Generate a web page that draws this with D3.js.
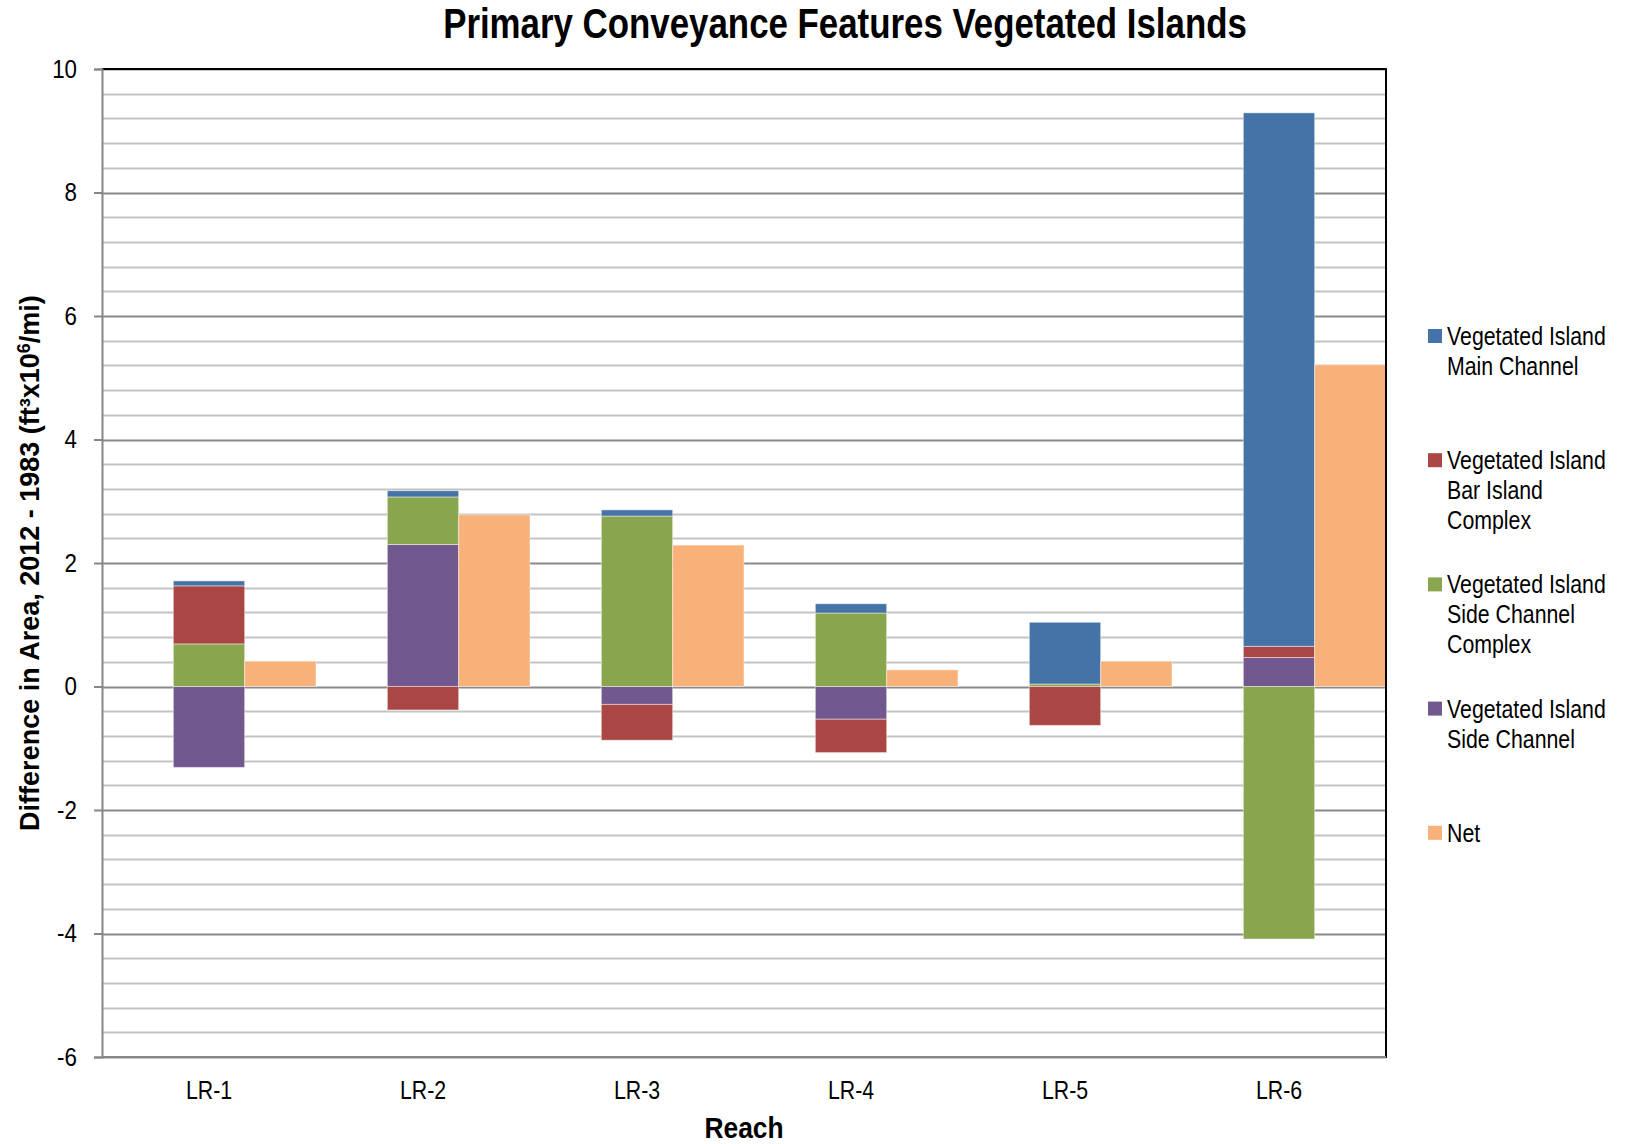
<!DOCTYPE html>
<html>
<head>
<meta charset="utf-8">
<script src="https://cdnjs.cloudflare.com/ajax/libs/d3/7.8.5/d3.min.js"></script>
<style>
    html, body { margin: 0; padding: 0; background: #ffffff; }
    text { font-family: "Liberation Sans Narrow", "Arial Narrow", "Liberation Sans", Arial, sans-serif; fill: #000; }
</style>
</head>
<body>
<div id="chart"></div>
<script>
// values, ft3 x 10^6 per mile
var categories = ["LR-1", "LR-2", "LR-3", "LR-4", "LR-5", "LR-6"];
var mainChannel = [0.08, 0.10, 0.10, 0.15, 1.00, 8.64];
var barIsland = [0.94, -0.38, -0.58, -0.54, -0.63, 0.18];
var sideChannelComplex = [0.69, 0.77, 2.76, 1.19, 0.04, -4.09];
var sideChannel = [-1.31, 2.30, -0.29, -0.53, 0.00, 0.47];
var net = [0.41, 2.78, 2.29, 0.27, 0.41, 5.21];
var yTicks = [-6, -4, -2, 0, 2, 4, 6, 8, 10];

var width = 1625, height = 1144;
var margin = {top: 69, right: 239, bottom: 87, left: 102};
var squeeze = 0.82; // no narrow font installed, so squeeze the regular one

var series = [
    {key: "sideChannel", values: sideChannel, color: "#71588F"},
    {key: "sideChannelComplex", values: sideChannelComplex, color: "#89A54E"},
    {key: "barIsland", values: barIsland, color: "#AA4643"},
    {key: "mainChannel", values: mainChannel, color: "#4572A7"}
];

var legendItems = [
    {lines: ["Vegetated Island", "Main Channel"], color: "#4572A7"},
    {lines: ["Vegetated Island", "Bar Island", "Complex"], color: "#AA4643"},
    {lines: ["Vegetated Island", "Side Channel", "Complex"], color: "#89A54E"},
    {lines: ["Vegetated Island", "Side Channel"], color: "#71588F"},
    {lines: ["Net"], color: "#F8B179"}
];

var rows = categories.map(function (c, i) {
    var r = {reach: c};
    series.forEach(function (s) { r[s.key] = s.values[i]; });
    return r;
});

function narrow(sel, k) {
    sel.attr("transform", "scale(" + k + ",1)")
        .attr("x", function () { return (+this.getAttribute("x") || 0) / k; });
}

var svg = d3.select("#chart").append("svg")
    .attr("width", width)
    .attr("height", height);

var x = d3.scaleBand()
    .domain(categories)
    .range([margin.left, width - margin.right])
    .padding(0);

var y = d3.scaleLinear()
    .domain([-6, 10])
    .range([height - margin.bottom, margin.top]);

var bw = x.bandwidth() / 3;

// gridlines, minor every 0.4 then major every 2
var minor = d3.range(-6, 10.001, 0.4).filter(function (v) {
    return Math.abs(v / 2 - Math.round(v / 2)) > 0.01;
});
svg.append("g").selectAll("line")
    .data(minor)
    .enter().append("line")
    .attr("x1", margin.left)
    .attr("x2", width - margin.right)
    .attr("y1", function (d) { return Math.round(y(d)) + 0.5; })
    .attr("y2", function (d) { return Math.round(y(d)) + 0.5; })
    .attr("stroke", "#c4c4c4")
    .attr("stroke-width", 2);

svg.append("g").selectAll("line")
    .data(yTicks)
    .enter().append("line")
    .attr("x1", margin.left)
    .attr("x2", width - margin.right)
    .attr("y1", function (d) { return Math.round(y(d)) + 0.5; })
    .attr("y2", function (d) { return Math.round(y(d)) + 0.5; })
    .attr("stroke", "#8a8a8a")
    .attr("stroke-width", 2);

// stacked bars
var stack = d3.stack()
    .keys(series.map(function (s) { return s.key; }))
    .offset(d3.stackOffsetDiverging);

var layers = stack(rows);

svg.append("g").selectAll("g")
    .data(layers)
    .enter().append("g")
    .attr("fill", function (d, i) { return series[i].color; })
    .selectAll("rect")
    .data(function (d) { return d; })
    .enter().append("rect")
    .attr("x", function (d) { return x(d.data.reach) + bw; })
    .attr("y", function (d) { return y(Math.max(d[0], d[1])); })
    .attr("width", bw)
    .attr("height", function (d) { return Math.abs(y(d[0]) - y(d[1])); })
    .attr("stroke", "rgba(255,255,255,0.45)")
    .attr("stroke-width", 1);

// net bars
svg.append("g").selectAll("rect")
    .data(net)
    .enter().append("rect")
    .attr("x", function (d, i) { return x(categories[i]) + 2 * bw; })
    .attr("y", function (d) { return y(Math.max(0, d)); })
    .attr("width", bw)
    .attr("height", function (d) { return Math.abs(y(d) - y(0)); })
    .attr("fill", "#F8B179")
    .attr("stroke", "rgba(255,255,255,0.45)")
    .attr("stroke-width", 1);

// frame
var x0 = margin.left, x1 = width - margin.right;
var yTop = y(10), yBot = y(-6);
svg.append("line")
    .attr("x1", x0).attr("x2", x1 + 1)
    .attr("y1", yTop).attr("y2", yTop)
    .attr("stroke", "#000").attr("stroke-width", 2);
svg.append("line")
    .attr("x1", x1).attr("x2", x1)
    .attr("y1", yTop).attr("y2", yBot + 1)
    .attr("stroke", "#000").attr("stroke-width", 2);
svg.append("line")
    .attr("x1", x0).attr("x2", x1)
    .attr("y1", yBot).attr("y2", yBot)
    .attr("stroke", "#868686").attr("stroke-width", 2);

// y axis
var yAxis = d3.axisLeft(y)
    .tickValues(yTicks)
    .tickSize(8)
    .tickPadding(17)
    .tickFormat(function (d) { return String(d); });

var gy = svg.append("g")
    .attr("transform", "translate(" + x0 + ",0)")
    .call(yAxis);
gy.select(".domain").attr("stroke", "#868686").attr("stroke-width", 2);
gy.selectAll(".tick line").attr("stroke", "#868686").attr("stroke-width", 2);
gy.selectAll(".tick text")
    .style("font-size", "26px")
    .attr("fill", "#000")
    .call(narrow, 0.86);

// x axis labels
var xAxis = d3.axisBottom(x).tickSize(0).tickPadding(24);
var gx = svg.append("g")
    .attr("transform", "translate(0," + yBot + ")")
    .call(xAxis);
gx.select(".domain").remove();
gx.selectAll(".tick text")
    .style("font-size", "26px")
    .attr("fill", "#000")
    .call(narrow, squeeze);

// titles
svg.append("text")
    .attr("transform", "translate(845,38) scale(0.83,1)")
    .attr("text-anchor", "middle")
    .style("font-size", "42px")
    .style("font-weight", "bold")
    .text("Primary Conveyance Features Vegetated Islands");

svg.append("text")
    .attr("transform", "translate(744,1138) scale(0.88,1)")
    .attr("text-anchor", "middle")
    .style("font-size", "30px")
    .style("font-weight", "bold")
    .text("Reach");

var ylab = svg.append("text")
    .attr("transform", "translate(39,563) rotate(-90)")
    .attr("text-anchor", "middle")
    .style("font-size", "27px")
    .style("font-weight", "bold");
ylab.append("tspan").text("Difference in Area, 2012 - 1983 (ft\u00B3x10");
ylab.append("tspan").attr("dy", -9).style("font-size", "18px").text("6");
ylab.append("tspan").attr("dy", 9).text("/mi)");

// legend
var legend = svg.append("g").selectAll("g")
    .data(legendItems)
    .enter().append("g")
    .attr("transform", function (d, i) { return "translate(1428," + (336 + i * 124.2) + ")"; });

legend.append("rect")
    .attr("x", 0)
    .attr("y", -7)
    .attr("width", 14)
    .attr("height", 14)
    .attr("fill", function (d) { return d.color; });

legend.append("text")
    .attr("transform", "translate(19,0) scale(" + squeeze + ",1)")
    .style("font-size", "26px")
    .each(function (d) {
        var t = d3.select(this);
        d.lines.forEach(function (line, j) {
            t.append("tspan")
                .attr("x", 0)
                .attr("y", 9 + j * 30)
                .text(line);
        });
    });
</script>
</body>
</html>
